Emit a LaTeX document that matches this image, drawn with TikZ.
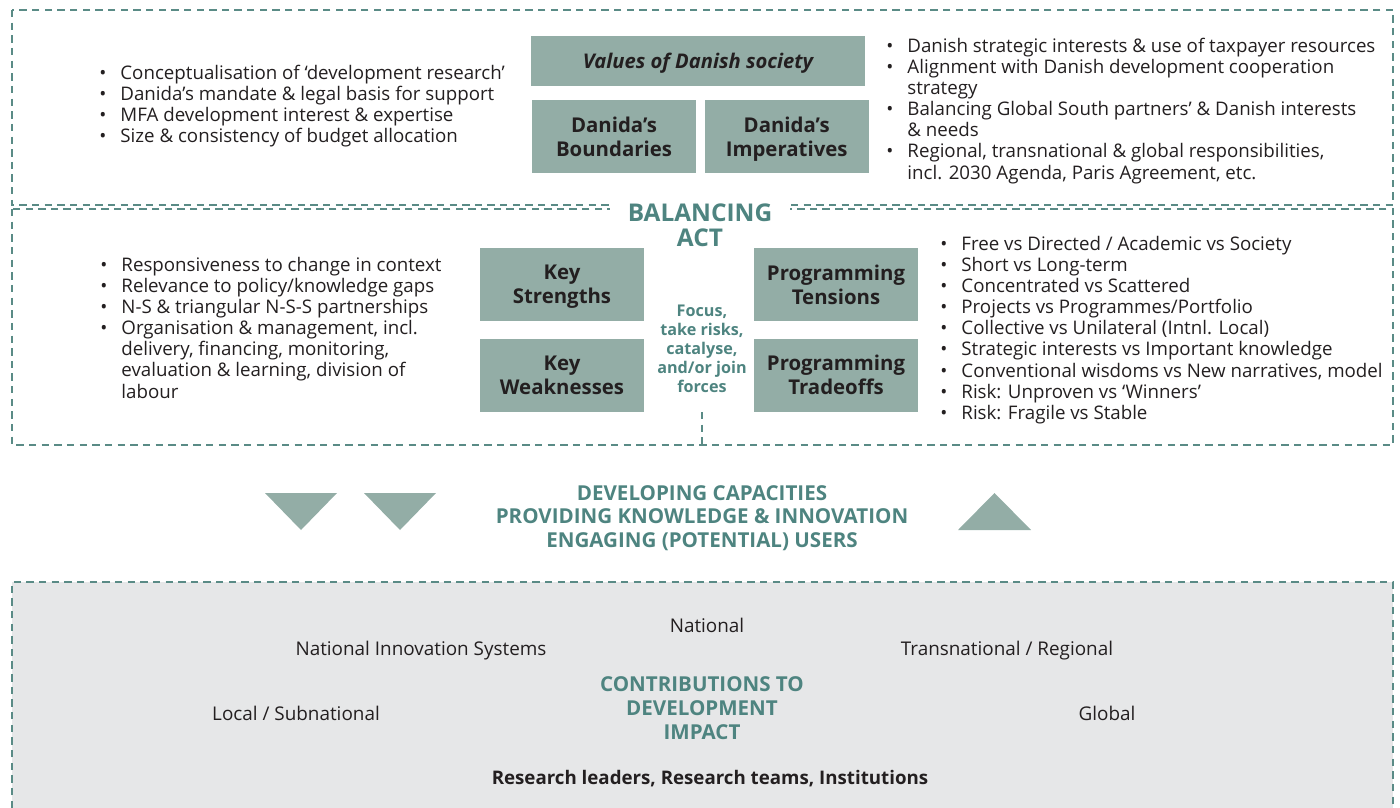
\documentclass[tikz,border=0pt]{standalone}
\usepackage{fontspec}
\setmainfont{Open Sans}
\usetikzlibrary{positioning,calc}

\definecolor{tealtxt}{HTML}{4E8480}
\definecolor{boxfill}{HTML}{93ADA6}
\definecolor{dashcol}{HTML}{5A8B86}
\definecolor{greyfill}{HTML}{E6E7E8}
\definecolor{ink}{HTML}{231F20}

\newcommand{\bl}{\textbullet}

\tikzset{
  frame/.style={draw=dashcol, line width=1.3pt, dash pattern=on 4.2pt off 3pt},
  greybox/.style={fill=boxfill, text=ink, font=\fontsize{11.6}{13.6}\selectfont\bfseries,
                  align=center, inner sep=0pt, text depth=0pt,
                  minimum width=3.28cm, minimum height=1.46cm},
  blist/.style={anchor=base west, text=ink, inner sep=0pt, font=\fontsize{10.65}{12.05}\selectfont},
  plain/.style={text=ink, font=\fontsize{10.75}{12}\selectfont},
  caps/.style={text=tealtxt, align=center, font=\fontsize{11.7}{13.5}\selectfont\bfseries},
  arrowtri/.style={fill=boxfill}
}

\begin{document}
\begin{tikzpicture}[x=0.02cm, y=-0.02cm]
 \useasboundingbox (0,0) rectangle (1400,808);

 % frames
 \draw[frame] (12,10) rectangle (1393,205);
 \draw[frame] (12,209) rectangle (1393,445);
 \fill[greyfill] (12,582) rectangle (1393,808);
 \draw[frame] (12,808) -- (12,582) -- (1393,582) -- (1393,808);

 %level 1
 \node[greybox, minimum width=6.68cm, minimum height=1cm, font=\fontsize{11.5}{13.6}\selectfont\bfseries\itshape] (values) at (698,61) {Values of Danish society};
 \node[greybox] (bound) at (614,136.5) {Danida's\\Boundaries};
 \node[greybox, right=0.16cm of bound] (imper) {Danida's\\Imperatives};

 \node[blist] (lefttop) at (99,79) {\begin{tabular}[t]{@{}l@{\hspace{8pt}}l@{}}
   \bl & Conceptualisation of `development research'\\
   \bl & Danida's mandate \& legal basis for support\\
   \bl & MFA development interest \& expertise\\
   \bl & Size \& consistency of budget allocation
 \end{tabular}};

 \node[blist] (righttop) at (886,52) {\begin{tabular}[t]{@{}l@{\hspace{8pt}}l@{}}
   \bl & Danish strategic interests \& use of taxpayer resources\\
   \bl & Alignment with Danish development cooperation\\
       & strategy\\
   \bl & Balancing Global South partners' \& Danish interests\\
       & \& needs\\
   \bl & Regional, transnational \& global responsibilities,\\
       & incl. 2030 Agenda, Paris Agreement, etc.
 \end{tabular}};

 %level 2
 \node[caps, fill=white, minimum width=3.6cm, inner sep=2pt, font=\fontsize{13.9}{14.2}\selectfont\bfseries] (balance) at (700,225) {BALANCING\\ACT};

 \node[greybox] (strong) at (562,284.5) {Key\\Strengths};
 \node[greybox, below=0.34cm of strong] (weak) {Key\\Weaknesses};
 \node[greybox] (tension) at (836,284.5) {Programming\\Tensions};
 \node[greybox, below=0.34cm of tension] (trade) {Programming\\Tradeoffs};

 \node[caps, font=\fontsize{9.2}{10.9}\selectfont\bfseries] (focus) at (702,349) {Focus,\\take risks,\\catalyse,\\and/or join\\forces};
 \coordinate (drop) at (702,412);
 \coordinate (midbot) at (702,445);
 \draw[frame] (drop) -- (midbot);

 \node[blist] (leftmid) at (100,271) {\begin{tabular}[t]{@{}l@{\hspace{8pt}}l@{}}
   \bl & Responsiveness to change in context\\
   \bl & Relevance to policy/knowledge gaps\\
   \bl & N-S \& triangular N-S-S partnerships\\
   \bl & Organisation \& management, incl.\\
       & delivery, financing, monitoring,\\
       & evaluation \& learning, division of\\
       & labour
 \end{tabular}};

 \node[blist] (rightmid) at (940,250) {\begin{tabular}[t]{@{}l@{\hspace{8pt}}l@{}}
   \bl & Free vs Directed / Academic vs Society\\
   \bl & Short vs Long-term\\
   \bl & Concentrated vs Scattered\\
   \bl & Projects vs Programmes/Portfolio\\
   \bl & Collective vs Unilateral (Intnl. Local)\\
   \bl & Strategic interests vs Important knowledge\\
   \bl & Conventional wisdoms vs New narratives, model\\
   \bl & Risk: Unproven vs `Winners'\\
   \bl & Risk: Fragile vs Stable
 \end{tabular}};

 % arrows
 \foreach \a in {265, 364}
   \fill[arrowtri] (\a,493) -- (\a+72,493) -- (\a+36,530) -- cycle;
 \fill[arrowtri] (958,530) -- (1031,530) -- (994.5,493) -- cycle;

 \node[caps] (pathways) at (702,518) {DEVELOPING CAPACITIES\\PROVIDING KNOWLEDGE \& INNOVATION\\ENGAGING (POTENTIAL) USERS};

 %level 3
 \node[plain] (national) at (707,625) {National};
 \node[plain] (nis) at (421,651) {National Innovation Systems};
 \node[plain] (transnat) at (1007,651) {Transnational / Regional};
 \node[plain] (local) at (296,713) {Local / Subnational};
 \node[plain] (global) at (1107,713) {Global};
 \node[caps] (impact) at (702,708) {CONTRIBUTIONS TO\\DEVELOPMENT\\IMPACT};
 \node[plain, font=\fontsize{10.65}{12}\selectfont\bfseries] (actors) at (710,779) {Research leaders, Research teams, Institutions};

\end{tikzpicture}
\end{document}
